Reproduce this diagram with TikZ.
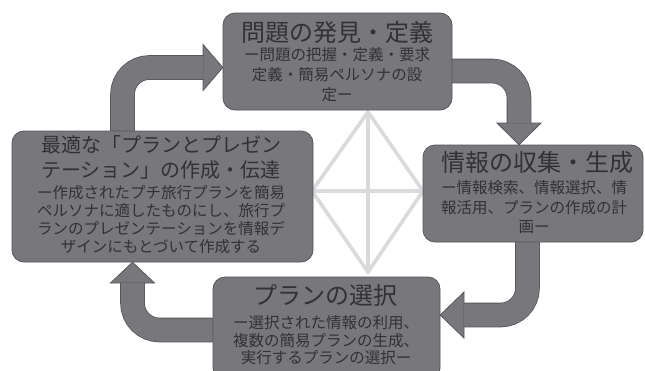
\documentclass[tikz,border=0pt]{standalone}
\usepackage{fontspec}
\setmainfont{Noto Sans CJK JP}
\usetikzlibrary{calc}
\definecolor{boxc}{HTML}{78787C}
\definecolor{edgec}{HTML}{56565A}
\definecolor{txtc}{HTML}{323234}
\definecolor{diamc}{HTML}{DADADC}
\tikzset{
  box/.style={draw=edgec, fill=boxc, line width=0.8pt, rounded corners=12pt, inner sep=0pt},
  shaft/.style={draw=edgec, line width=0.8pt, double=boxc, double distance=23pt, rounded corners=27pt},
  ahead/.style={fill=boxc, draw=edgec, line width=0.8pt, line join=miter},
  diam/.style={draw=diamc, line width=3.6pt, line cap=round, line join=round},
  ttl/.style={text=txtc, align=center, inner sep=0pt, font=\fontsize{24}{28}\selectfont},
  ttls/.style={text=txtc, align=center, inner sep=0pt, font=\fontsize{20}{24.5}\selectfont},
  bdy/.style={text=txtc, align=center, inner sep=0pt, font=\fontsize{15.5}{#1}\selectfont},
}
\begin{document}
\begin{tikzpicture}[x=1pt,y=-1pt]
\useasboundingbox (0,0) rectangle (645,370);
% diamond
\coordinate (dt) at (368,112);
\coordinate (dl) at (312,191);
\coordinate (dr) at (423,191);
\coordinate (db) at (368,272);
\draw[diam] (dt) -- (dr) -- (db) -- (dl) -- cycle;
\draw[diam] (dt) -- (db);
\draw[diam] (dl) -- (dr);
% box geometry (invisible placeholders for anchors)
\path (337.5,61.5) node[minimum width=229pt, minimum height=97pt, inner sep=0pt] (tbox) {};
\path (533,193.5) node[minimum width=220pt, minimum height=97pt, inner sep=0pt] (rbox) {};
\path (162.5,196.5) node[minimum width=301pt, minimum height=131pt, inner sep=0pt] (lbox) {};
\path (326.5,328.5) node[minimum width=227pt, minimum height=103pt, inner sep=0pt] (bbox) {};
% arrows
\draw[ahead] (203,44.5) -- (tbox.west |- 0,67.5) -- (203,90.5) -- cycle;
\draw[shaft] ($(122.5,0 |- lbox.north)+(0,4)$) -- (122.5,67.5) -- (203.5,67.5);
\draw[ahead] (497,123) -- (519,0 |- rbox.north) -- (541,123) -- cycle;
\draw[shaft] ($(tbox.east |- 0,71)+(-4,0)$) -- (519,71) -- (519,123.5);
\draw[ahead] (464,292) -- (bbox.east |- 0,315) -- (464,338) -- cycle;
\draw[shaft] ($(527.5,0 |- rbox.south)+(0,-4)$) -- (527.5,315) -- (463.5,315);
\draw[ahead] (110.5,283) -- (132.5,0 |- lbox.south) -- (154.5,283) -- cycle;
\draw[shaft] ($(bbox.west |- 0,330)+(4,0)$) -- (132.5,330) -- (132.5,282.5);
% boxes
\node[box, minimum width=229pt, minimum height=97pt] (tb) at (tbox) {};
\node[box, minimum width=220pt, minimum height=97pt] (rb) at (rbox) {};
\node[box, minimum width=301pt, minimum height=131pt] (lb) at (lbox) {};
\node[box, minimum width=227pt, minimum height=103pt] (bb) at (bbox) {};
% texts
\node[ttl] (tt) at (337,32) {問題の発見・定義};
\node[bdy=20] (tx) at (337,75) {ー問題の把握・定義・要求\\定義・簡易ペルソナの設\\定ー};
\node[ttl] (rt) at (537,162) {情報の収集・生成};
\node[bdy=19.5] (rx) at (534,207.5) {ー情報検索、情報選択、情\\報活用、プランの作成の計\\画ー};
\node[ttls] (lt) at (161,157.5) {最適な「プランとプレゼン\\テーション」の作成・伝達};
\node[bdy=17.8] (lx) at (161,219.5) {ー作成されたプチ旅行プランを簡易\\ペルソナに適したものにし、旅行プ\\ランのプレゼンテーションを情報デ\\ザインにもとづいて作成する};
\node[ttl] (bt) at (325,295) {プランの選択};
\node[bdy=17.5] (bx) at (326,340.5) {ー選択された情報の利用、\\複数の簡易プランの生成、\\実行するプランの選択ー};
\end{tikzpicture}
\end{document}
